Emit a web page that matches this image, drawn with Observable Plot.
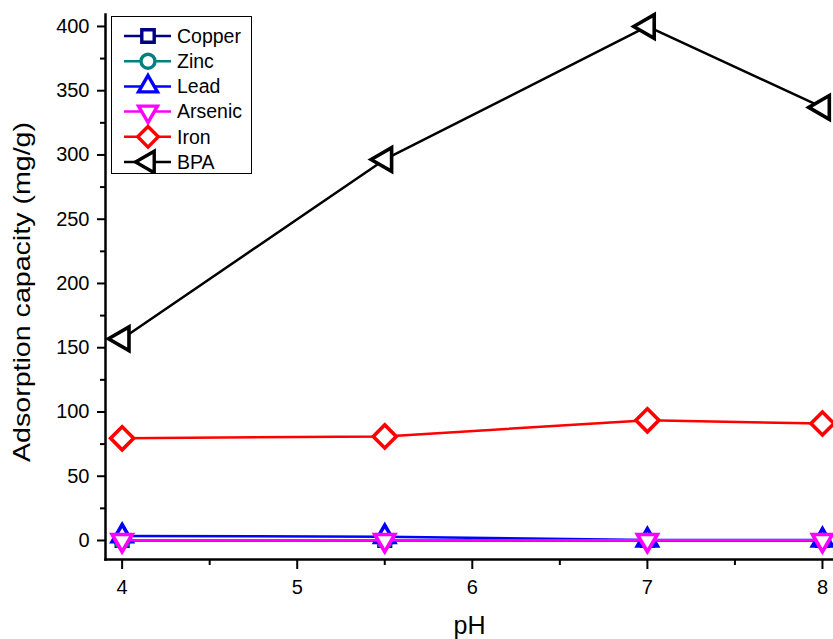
<!DOCTYPE html>
<html>
<head>
<meta charset="utf-8">
<script src="https://cdn.jsdelivr.net/npm/d3@7"></script>
<script src="https://cdn.jsdelivr.net/npm/@observablehq/plot@0.6"></script>
<style>
  html, body { margin: 0; padding: 0; background: #fff; }
  #wrap { position: relative; width: 833px; height: 639px; overflow: hidden; font-family: "Liberation Sans", Arial, sans-serif; }
  #legend { position: absolute; left: 111px; top: 16px; width: 139px; height: 156px; border: 1.3px solid #000; background: #fff; }
</style>
</head>
<body>
<div id="wrap"><div id="legend"></div></div>
<script>
// ---- data ----
const pH = [4, 5.5, 7, 8];
const seriesNames = ["Copper", "Zinc", "Lead", "Arsenic", "Iron", "BPA"];
const copper  = [0, 0, 0, 0];
const zinc    = [0, 0, 0, 0];
const lead    = [3.5, 3, 0.3, 0.3];
const arsenic = [0.2, 0.2, 0.2, 0.2];
const iron    = [79.5, 81, 93.5, 91];
const bpa     = [157, 296.5, 400, 337];
const seriesValues = [copper, zinc, lead, arsenic, iron, bpa];
const seriesColors = ["#000080", "#008080", "#0000FF", "#FF00FF", "#FF0000", "#000000"];
const seriesSymbols = ["square", "circle", "triangle", "triangle", "square", "triangle"];
const seriesRotate = [0, 0, 0, 180, 45, -90];
const seriesR = [6.5, 7, 7.4, 7.4, 9.2, 8.8];
const yMajor = [0, 50, 100, 150, 200, 250, 300, 350, 400];
const yMinor = [25, 75, 125, 175, 225, 275, 325, 375];
const xMajor = [4, 5, 6, 7, 8];
const xMinor = [4.5, 5.5, 6.5, 7.5];

const marks = [];
seriesNames.forEach((name, i) => {
  const rows = pH.map((x, j) => ({x, y: seriesValues[i][j], name}));
  marks.push(Plot.line(rows, {x: "x", y: "y", stroke: seriesColors[i], strokeWidth: 2.5}));
  marks.push(Plot.dot(rows, {x: "x", y: "y", stroke: seriesColors[i], fill: "white", strokeWidth: 3.6,
    symbol: seriesSymbols[i], rotate: seriesRotate[i], r: seriesR[i]}));
});

const chart = Plot.plot({
  width: 833, height: 639,
  marginLeft: 105, marginRight: 0, marginTop: 14, marginBottom: 80,
  style: {fontFamily: '"Liberation Sans", Arial, sans-serif', fontSize: "20px", background: "transparent", overflow: "visible", color: "#000"},
  x: {domain: [3.905, 8.063]},
  y: {domain: [-14.8, 409.3]},
  marks: [
    Plot.axisY({ticks: yMajor, tickSize: 8, tickPadding: 8, strokeWidth: 2, fontSize: 20, label: null}),
    Plot.axisY({ticks: yMinor, tickSize: 5, tickFormat: () => "", strokeWidth: 2, label: null}),
    Plot.axisX({ticks: xMajor, tickSize: 10, tickPadding: 10, strokeWidth: 2, fontSize: 20, tickFormat: d => String(d), label: null}),
    Plot.axisX({ticks: xMinor, tickSize: 6, tickFormat: () => "", strokeWidth: 2, label: null}),
    Plot.text(["pH"], {frameAnchor: "bottom", dy: 74, text: d => d, fontSize: 25}),
    Plot.text(["Adsorption capacity (mg/g)"], {frameAnchor: "left", textAnchor: "middle", dx: -83, dy: 5, rotate: -90, text: d => d, fontSize: 24, className: "ylab"}),
    ...marks,
    Plot.frame({anchor: "left", strokeWidth: 2.5}),
    Plot.frame({anchor: "bottom", strokeWidth: 2.5})
  ]
});
document.getElementById("wrap").prepend(chart);
d3.select(chart).selectAll(".ylab text").attr("textLength", 340).attr("lengthAdjust", "spacingAndGlyphs");

// ---- legend ----
const legSvg = d3.select("#legend").append("svg").attr("width", 139).attr("height", 156)
  .style("font-family", '"Liberation Sans", Arial, sans-serif');
const symMap = {square: d3.symbolSquare, circle: d3.symbolCircle, triangle: d3.symbolTriangle};
const legR = [7, 7, 7, 7, 8.2, 8];
seriesNames.forEach((name, i) => {
  const cy = 19 + i * 25.2;
  const g = legSvg.append("g").attr("transform", `translate(0,${cy})`);
  g.append("line").attr("x1", 12).attr("x2", 59).attr("y1", 0).attr("y2", 0)
    .attr("stroke", seriesColors[i]).attr("stroke-width", 2.5);
  g.append("path").attr("d", d3.symbol(symMap[seriesSymbols[i]], Math.PI * legR[i] * legR[i])())
    .attr("transform", `translate(36,0) rotate(${seriesRotate[i]})`)
    .attr("fill", "white").attr("stroke", seriesColors[i]).attr("stroke-width", 3.4);
  g.append("text").attr("x", 65).attr("y", 0).attr("dy", "0.35em").attr("font-size", 19.5).text(name);
});
</script>
</body>
</html>
